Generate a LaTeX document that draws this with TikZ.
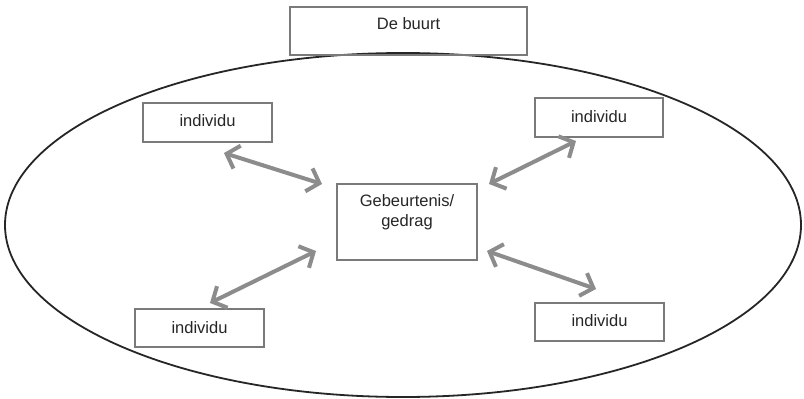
\documentclass[tikz,border=0pt]{standalone}
\usepackage{fontspec}
\setmainfont{Liberation Sans}
\usetikzlibrary{arrows.meta}
\definecolor{boxgray}{HTML}{7A7A7A}
\definecolor{arrgray}{HTML}{8C8C8C}
\begin{document}
\begin{tikzpicture}[x=1pt,y=-1pt,
  box/.style={draw=boxgray,line width=2.6pt,fill=none},
  lbl/.style={font=\fontsize{16.5}{20}\selectfont,text=black!85,align=center},
  dblarrow/.style={draw=arrgray,line width=4pt,
    {Straight Barb[length=11pt,width=24pt,line width=4pt]}-{Straight Barb[length=11pt,width=24pt,line width=4pt]}}]
\useasboundingbox (0,0) rectangle (804,399);
\fill[white] (0,0) rectangle (804,399);
% neighbourhood ellipse
\draw[line width=1.8pt,black!85] (403,225) ellipse [x radius=398, y radius=172];
% boxes
\draw[box] (290,7) rectangle (527,55);
\node[lbl] (buurt) at (408.5,24) {De buurt};
\draw[box] (143,103) rectangle (272,142);
\node[lbl] (tl) at (207.5,121) {individu};
\draw[box] (535,98) rectangle (663,137);
\node[lbl] (tr) at (599,117) {individu};
\draw[box] (135,309) rectangle (264,347);
\node[lbl] (bl) at (199.5,328) {individu};
\draw[box] (535,303) rectangle (664,341);
\node[lbl] (br) at (599.5,321) {individu};
\draw[box] (337,184) rectangle (477,260);
\node[lbl] (ev) at (407,212) {Gebeurtenis/\\gedrag};
% arrow end points
\coordinate (a1) at (224,153); \coordinate (a2) at (322,184);
\coordinate (b1) at (489,184); \coordinate (b2) at (576,141);
\coordinate (c1) at (210,303); \coordinate (c2) at (316,251);
\coordinate (d1) at (487,251); \coordinate (d2) at (596,289);
\draw[dblarrow] (a1) -- (a2);
\draw[dblarrow] (b1) -- (b2);
\draw[dblarrow] (c1) -- (c2);
\draw[dblarrow] (d1) -- (d2);
\end{tikzpicture}
\end{document}
